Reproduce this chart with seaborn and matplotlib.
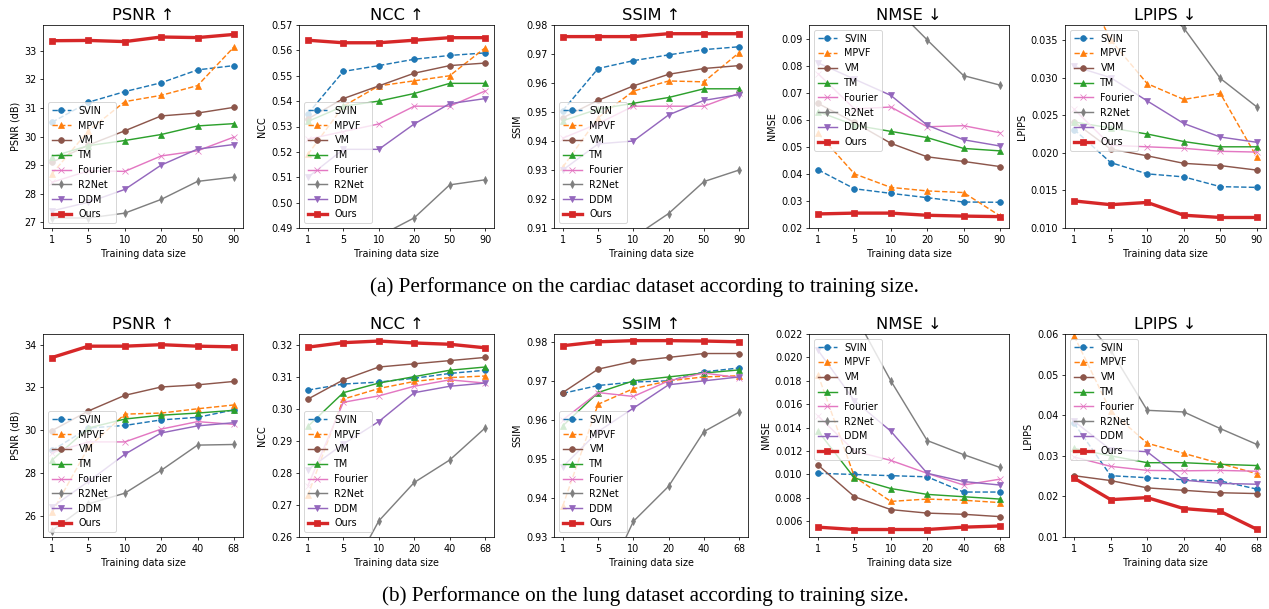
import numpy as np
import matplotlib
matplotlib.use("Agg")
import matplotlib.pyplot as plt
import seaborn as sns

# ---------------- data ----------------
methods = ["SVIN", "MPVF", "VM", "TM", "Fourier", "R2Net", "DDM", "Ours"]
sizes_cardiac = ["1", "5", "10", "20", "50", "90"]
sizes_lung = ["1", "5", "10", "20", "40", "68"]

# Cardiac dataset
c_psnr_svin = [30.5, 31.2, 31.57, 31.88, 32.33, 32.48]
c_psnr_mpvf = [28.7, 30.2, 31.22, 31.44, 31.78, 33.13]
c_psnr_vm = [29.1, 29.7, 30.2, 30.72, 30.82, 31.02]
c_psnr_tm = [29.3, 29.68, 29.86, 30.07, 30.37, 30.45]
c_psnr_fourier = [28.4, 28.8, 28.78, 29.32, 29.5, 29.98]
c_psnr_r2net = [27.15, 27.15, 27.32, 27.8, 28.43, 28.58]
c_psnr_ddm = [27.4, 27.7, 28.15, 29.0, 29.56, 29.72]
c_psnr_ours = [33.35, 33.36, 33.32, 33.48, 33.46, 33.57]

c_ncc_svin = [0.535, 0.5517, 0.554, 0.5565, 0.558, 0.559]
c_ncc_mpvf = [0.519, 0.538, 0.546, 0.548, 0.550, 0.561]
c_ncc_vm = [0.533, 0.541, 0.546, 0.551, 0.554, 0.555]
c_ncc_tm = [0.532, 0.538, 0.540, 0.543, 0.547, 0.547]
c_ncc_fourier = [0.525, 0.528, 0.531, 0.538, 0.538, 0.544]
c_ncc_r2net = [0.470, 0.478, 0.4867, 0.494, 0.507, 0.509]
c_ncc_ddm = [0.510, 0.521, 0.521, 0.531, 0.539, 0.541]
c_ncc_ours = [0.564, 0.563, 0.563, 0.564, 0.565, 0.565]

c_ssim_svin = [0.9505, 0.965, 0.9677, 0.9697, 0.9715, 0.9725]
c_ssim_mpvf = [0.931, 0.948, 0.9572, 0.9607, 0.9604, 0.9705]
c_ssim_vm = [0.948, 0.954, 0.959, 0.963, 0.965, 0.966]
c_ssim_tm = [0.947, 0.951, 0.953, 0.955, 0.958, 0.958]
c_ssim_fourier = [0.941, 0.946, 0.952, 0.952, 0.952, 0.9565]
c_ssim_r2net = [0.895, 0.900, 0.9068, 0.915, 0.926, 0.930]
c_ssim_ddm = [0.930, 0.939, 0.940, 0.949, 0.954, 0.956]
c_ssim_ours = [0.976, 0.976, 0.976, 0.977, 0.977, 0.977]

c_nmse_svin = [0.0415, 0.0345, 0.0328, 0.0312, 0.0296, 0.0295]
c_nmse_mpvf = [0.055, 0.040, 0.035, 0.0337, 0.0331, 0.0245]
c_nmse_vm = [0.066, 0.059, 0.0513, 0.0463, 0.0446, 0.0427]
c_nmse_tm = [0.063, 0.058, 0.0557, 0.0534, 0.0494, 0.0485]
c_nmse_fourier = [0.077, 0.064, 0.0647, 0.0574, 0.0578, 0.0552]
c_nmse_r2net = [0.130, 0.115, 0.103, 0.0895, 0.0763, 0.0728]
c_nmse_ddm = [0.081, 0.075, 0.069, 0.058, 0.0526, 0.0503]
c_nmse_ours = [0.0252, 0.0255, 0.0255, 0.0247, 0.0244, 0.0242]

c_lpips_svin = [0.0231, 0.0187, 0.0172, 0.0168, 0.0155, 0.0154]
c_lpips_mpvf = [0.045, 0.035, 0.0292, 0.0271, 0.0279, 0.0194]
c_lpips_vm = [0.0241, 0.0205, 0.0196, 0.0186, 0.0183, 0.0177]
c_lpips_tm = [0.0241, 0.0233, 0.0225, 0.0215, 0.0208, 0.0208]
c_lpips_fourier = [0.0258, 0.0210, 0.0208, 0.0206, 0.0202, 0.0201]
c_lpips_r2net = [0.050, 0.044, 0.041, 0.0366, 0.0299, 0.0261]
c_lpips_ddm = [0.0315, 0.0300, 0.0269, 0.0239, 0.0221, 0.0214]
c_lpips_ours = [0.0136, 0.0131, 0.0134, 0.0117, 0.0114, 0.0114]

# Lung dataset
l_psnr_svin = [29.05, 30.1, 30.22, 30.48, 30.6, 30.95]
l_psnr_mpvf = [26.15, 29.2, 30.75, 30.8, 31.0, 31.18]
l_psnr_vm = [29.98, 30.9, 31.63, 32.02, 32.12, 32.28]
l_psnr_tm = [28.6, 30.1, 30.52, 30.7, 30.8, 30.93]
l_psnr_fourier = [28.95, 29.45, 29.45, 30.05, 30.4, 30.27]
l_psnr_r2net = [25.3, 26.55, 27.05, 28.12, 29.3, 29.33]
l_psnr_ddm = [26.4, 27.6, 28.87, 29.87, 30.2, 30.35]
l_psnr_ours = [33.4, 33.93, 33.93, 34.0, 33.93, 33.9]

l_ncc_svin = [0.3058, 0.3077, 0.3083, 0.3095, 0.311, 0.312]
l_ncc_mpvf = [0.273, 0.303, 0.3063, 0.3085, 0.3097, 0.3102]
l_ncc_vm = [0.303, 0.309, 0.313, 0.314, 0.315, 0.316]
l_ncc_tm = [0.2945, 0.305, 0.308, 0.310, 0.312, 0.313]
l_ncc_fourier = [0.276, 0.302, 0.304, 0.307, 0.309, 0.308]
l_ncc_r2net = [0.235, 0.2446, 0.265, 0.277, 0.284, 0.294]
l_ncc_ddm = [0.281, 0.289, 0.296, 0.305, 0.307, 0.308]
l_ncc_ours = [0.3192, 0.3206, 0.3211, 0.3205, 0.3201, 0.319]

l_ssim_svin = [0.9668, 0.9688, 0.9697, 0.970, 0.9723, 0.9733]
l_ssim_mpvf = [0.938, 0.964, 0.968, 0.970, 0.971, 0.9713]
l_ssim_vm = [0.967, 0.973, 0.975, 0.976, 0.977, 0.977]
l_ssim_tm = [0.9585, 0.967, 0.970, 0.971, 0.972, 0.9728]
l_ssim_fourier = [0.960, 0.967, 0.966, 0.970, 0.972, 0.9708]
l_ssim_r2net = [0.900, 0.9145, 0.934, 0.943, 0.957, 0.962]
l_ssim_ddm = [0.948, 0.957, 0.963, 0.969, 0.970, 0.971]
l_ssim_ours = [0.979, 0.980, 0.9803, 0.9803, 0.9802, 0.980]

l_nmse_svin = [0.0101, 0.0100, 0.0099, 0.0098, 0.0085, 0.0085]
l_nmse_mpvf = [0.0185, 0.0098, 0.0077, 0.0079, 0.0078, 0.0076]
l_nmse_vm = [0.0108, 0.0081, 0.0070, 0.0067, 0.0066, 0.0064]
l_nmse_tm = [0.0137, 0.0097, 0.0088, 0.0083, 0.0081, 0.0079]
l_nmse_fourier = [0.0150, 0.0120, 0.0112, 0.0101, 0.0091, 0.0096]
l_nmse_r2net = [0.030, 0.0237, 0.0180, 0.0129, 0.0117, 0.0106]
l_nmse_ddm = [0.0206, 0.0163, 0.0137, 0.0101, 0.0094, 0.0091]
l_nmse_ours = [0.0055, 0.0053, 0.0053, 0.0053, 0.0055, 0.0056]

l_lpips_svin = [0.038, 0.0251, 0.0246, 0.0241, 0.0238, 0.0218]
l_lpips_mpvf = [0.0595, 0.041, 0.0331, 0.0306, 0.0281, 0.0256]
l_lpips_vm = [0.0251, 0.0239, 0.0221, 0.0215, 0.0209, 0.0207]
l_lpips_tm = [0.0318, 0.0300, 0.0283, 0.0283, 0.0279, 0.0276]
l_lpips_fourier = [0.0297, 0.0274, 0.0264, 0.0263, 0.0264, 0.0262]
l_lpips_r2net = [0.0665, 0.056, 0.0412, 0.0408, 0.0367, 0.0328]
l_lpips_ddm = [0.0385, 0.0315, 0.0310, 0.0240, 0.0232, 0.0230]
l_lpips_ours = [0.0245, 0.0192, 0.0197, 0.0170, 0.0163, 0.0119]

titles = ["PSNR ↑", "NCC ↑", "SSIM ↑", "NMSE ↓", "LPIPS ↓"]
ylabels = ["PSNR (dB)", "NCC", "SSIM", "NMSE", "LPIPS"]
captions = ["(a) Performance on the cardiac dataset according to training size.",
            "(b) Performance on the lung dataset according to training size."]

cardiac = [
    [c_psnr_svin, c_psnr_mpvf, c_psnr_vm, c_psnr_tm, c_psnr_fourier, c_psnr_r2net, c_psnr_ddm, c_psnr_ours],
    [c_ncc_svin, c_ncc_mpvf, c_ncc_vm, c_ncc_tm, c_ncc_fourier, c_ncc_r2net, c_ncc_ddm, c_ncc_ours],
    [c_ssim_svin, c_ssim_mpvf, c_ssim_vm, c_ssim_tm, c_ssim_fourier, c_ssim_r2net, c_ssim_ddm, c_ssim_ours],
    [c_nmse_svin, c_nmse_mpvf, c_nmse_vm, c_nmse_tm, c_nmse_fourier, c_nmse_r2net, c_nmse_ddm, c_nmse_ours],
    [c_lpips_svin, c_lpips_mpvf, c_lpips_vm, c_lpips_tm, c_lpips_fourier, c_lpips_r2net, c_lpips_ddm, c_lpips_ours],
]
lung = [
    [l_psnr_svin, l_psnr_mpvf, l_psnr_vm, l_psnr_tm, l_psnr_fourier, l_psnr_r2net, l_psnr_ddm, l_psnr_ours],
    [l_ncc_svin, l_ncc_mpvf, l_ncc_vm, l_ncc_tm, l_ncc_fourier, l_ncc_r2net, l_ncc_ddm, l_ncc_ours],
    [l_ssim_svin, l_ssim_mpvf, l_ssim_vm, l_ssim_tm, l_ssim_fourier, l_ssim_r2net, l_ssim_ddm, l_ssim_ours],
    [l_nmse_svin, l_nmse_mpvf, l_nmse_vm, l_nmse_tm, l_nmse_fourier, l_nmse_r2net, l_nmse_ddm, l_nmse_ours],
    [l_lpips_svin, l_lpips_mpvf, l_lpips_vm, l_lpips_tm, l_lpips_fourier, l_lpips_r2net, l_lpips_ddm, l_lpips_ours],
]

# axis ranges / ticks
c_ylims = [(26.8, 33.9), (0.49, 0.57), (0.91, 0.98), (0.02, 0.095), (0.010, 0.037)]
l_ylims = [(25.0, 34.5), (0.26, 0.3233), (0.93, 0.982), (0.00466, 0.022), (0.01, 0.06)]
c_yticks = [[27, 28, 29, 30, 31, 32, 33],
            [0.49, 0.50, 0.51, 0.52, 0.53, 0.54, 0.55, 0.56, 0.57],
            [0.91, 0.92, 0.93, 0.94, 0.95, 0.96, 0.97, 0.98],
            [0.02, 0.03, 0.04, 0.05, 0.06, 0.07, 0.08, 0.09],
            [0.010, 0.015, 0.020, 0.025, 0.030, 0.035]]
l_yticks = [[26, 28, 30, 32, 34],
            [0.26, 0.27, 0.28, 0.29, 0.30, 0.31, 0.32],
            [0.93, 0.94, 0.95, 0.96, 0.97, 0.98],
            [0.006, 0.008, 0.010, 0.012, 0.014, 0.016, 0.018, 0.020, 0.022],
            [0.01, 0.02, 0.03, 0.04, 0.05, 0.06]]
legend_locs = ["lower left", "lower left", "lower left", "upper left", "upper left"]

# ---------------- style ----------------
colors = {"SVIN": "tab:blue", "MPVF": "tab:orange", "VM": "tab:brown", "TM": "tab:green",
          "Fourier": "tab:pink", "R2Net": "tab:gray", "DDM": "tab:purple", "Ours": "tab:red"}
markers = {"SVIN": "o", "MPVF": "^", "VM": "o", "TM": "^", "Fourier": "x",
           "R2Net": "d", "DDM": "v", "Ours": "s"}
linestyles = {"SVIN": "--", "MPVF": "--", "VM": "-", "TM": "-", "Fourier": "-",
              "R2Net": "-", "DDM": "-", "Ours": "-"}

DPI = 69
fig = plt.figure(figsize=(1269 / DPI, 609 / DPI), dpi=DPI)
W, H = 1269, 609

lefts = [43, 299, 554, 809, 1065]
widths = [200, 195, 194, 200, 201]
rows = [(25, 228), (334, 537)]


def draw_row(row_data, sizes, ylims, yticks, top, bottom):
    x = np.arange(len(sizes))
    for j in range(5):
        ax = fig.add_axes([lefts[j] / W, 1 - bottom / H, widths[j] / W, (bottom - top) / H])
        for name, vals in zip(methods, row_data[j]):
            lw = 3.5 if name == "Ours" else 1.5
            sns.lineplot(x=x, y=vals, ax=ax, color=colors[name], marker=markers[name],
                         linestyle=linestyles[name], linewidth=lw, markersize=6,
                         markeredgecolor=colors[name], label=name)
        ax.set_xticks(x)
        ax.set_xticklabels(sizes)
        ax.set_xlim(-0.25, len(sizes) - 0.75)
        ax.set_yticks(yticks[j])
        ax.set_ylim(*ylims[j])
        ax.set_title(titles[j], fontsize=17, pad=5)
        ax.set_xlabel("Training data size")
        ax.set_ylabel(ylabels[j])
        ax.legend(loc=legend_locs[j])


draw_row(cardiac, sizes_cardiac, c_ylims, c_yticks, *rows[0])
draw_row(lung, sizes_lung, l_ylims, l_yticks, *rows[1])

fig.text(644 / W, 1 - 287 / H, captions[0], ha="center", va="center",
         fontsize=22, family="Liberation Serif")
fig.text(645 / W, 1 - 596 / H, captions[1], ha="center", va="center",
         fontsize=22, family="Liberation Serif")

fig.savefig("out.png", dpi=DPI)
